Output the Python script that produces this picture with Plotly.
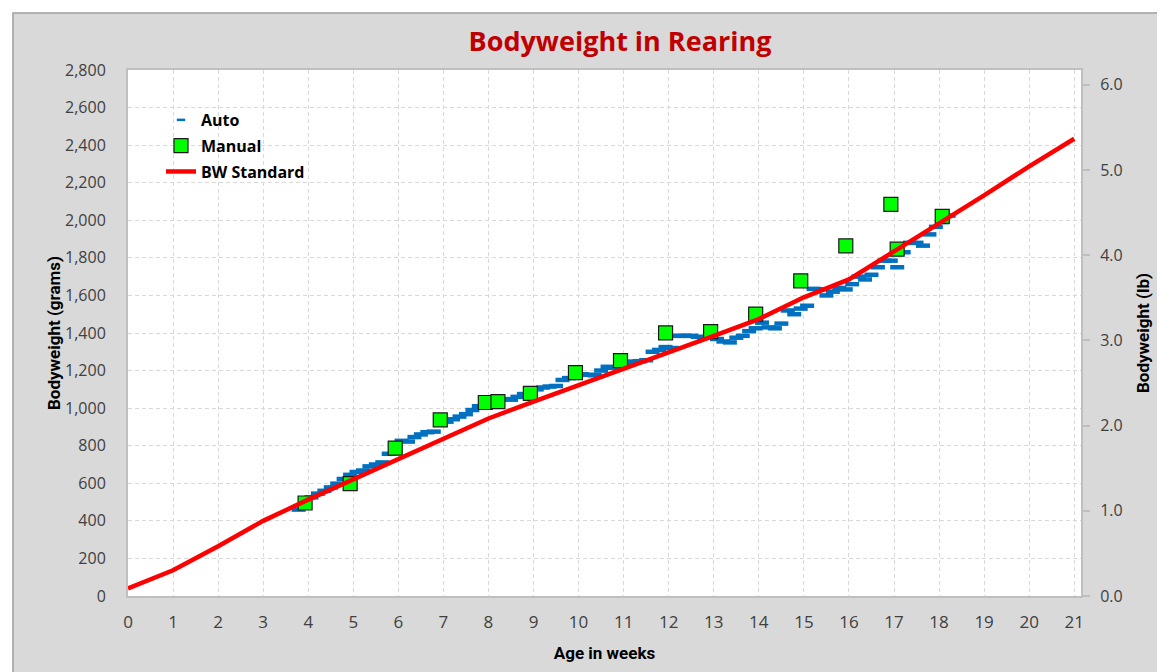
import plotly.graph_objects as go

# ---------------- data ----------------
# BW standard (grams) per week
bw_weeks = [0, 1, 2, 3, 4, 5, 6, 7, 8, 9, 10, 11, 12, 13, 14, 15, 16, 17, 18, 19, 20, 21]
bw_grams = [40, 137, 265, 400, 513, 622, 725, 838, 945, 1035, 1121, 1207, 1295, 1385,
            1474, 1590, 1685, 1832, 1985, 2133, 2287, 2434]

# Manual weighings (week, grams)
manual_weeks = [3.93, 4.93, 5.93, 6.93, 7.93, 8.21, 8.93, 9.93, 10.93, 11.93, 12.93,
                13.93, 14.93, 15.93, 16.93, 17.07, 18.07]
manual_grams = [495, 598, 787, 938, 1030, 1035, 1079, 1189, 1253, 1401, 1407,
                1501, 1678, 1864, 2085, 1846, 2021]

# Automatic daily weighings (day of age, grams)
auto_days = [26, 27, 28, 29, 30, 31, 32, 33, 34, 35, 36, 37, 38, 39, 40, 41, 42, 43, 44, 45,
             46, 47, 48, 49, 50, 51, 52, 53, 54, 55, 56, 57, 58, 59, 60, 61, 62, 63, 64, 65,
             66, 67, 68, 69, 70, 71, 72, 73, 74, 75, 76, 77, 78, 79, 80, 81, 82, 83, 84, 85,
             86, 87, 88, 89, 90, 91, 92, 93, 94, 95, 96, 97, 98, 99, 100, 101, 102, 103, 104, 105,
             106, 107, 108, 109, 110, 111, 112, 113, 114, 115, 116, 117, 118, 119, 120, 121, 122, 123, 124, 125,
             126, 127]
auto_grams = [460, 490, 525, 545, 560, 578, 598, 623, 645, 660, 668, 690, 700, 711, 757, 775, 826, 822, 846, 860,
              872, 875, 920, 928, 941, 955, 968, 990, 1010, 1025, 1040, 1045, 1048, 1045, 1060, 1075, 1085, 1100, 1110, 1115,
              1118, 1150, 1160, 1175, 1180, 1178, 1175, 1200, 1220, 1215, 1225, 1240, 1248, 1250, 1255, 1300, 1310, 1325, 1320, 1385,
              1385, 1385, 1380, 1375, 1380, 1368, 1355, 1350, 1375, 1385, 1410, 1425, 1455, 1430, 1425, 1450, 1520, 1500, 1530, 1545,
              1635, 1633, 1600, 1620, 1640, 1632, 1660, 1700, 1685, 1710, 1750, 1785, 1785, 1750, 1830, 1880, 1880, 1865, 1925, 1965,
              1990, 2025]

GRAMS_PER_LB = 453.592
Y_MAX_G = 2800

auto_weeks = [(d + 0.5) / 7 for d in auto_days]

fig = go.Figure()

fig.add_trace(go.Scatter(
    x=auto_weeks, y=auto_grams, mode="markers", name="Auto",
    marker=dict(symbol="line-ew", size=10, color="#0070c0",
                line=dict(color="#0070c0", width=4.5)),
    legendgroup="a", showlegend=False,
))
# legend-only entry with the small dash symbol shown in the key
fig.add_trace(go.Scatter(
    x=[None], y=[None], mode="markers", name="Auto",
    marker=dict(symbol="line-ew", size=6, color="#0070c0",
                line=dict(color="#0070c0", width=2.5)),
    legendgroup="a",
))
fig.add_trace(go.Scatter(
    x=manual_weeks, y=manual_grams, mode="markers", name="Manual",
    marker=dict(symbol="square", size=14, color="#00ff00",
                line=dict(color="#1a1a1a", width=1.2)),
    legendgroup="m",
))
fig.add_trace(go.Scatter(
    x=bw_weeks, y=bw_grams, mode="lines", name="BW Standard",
    line=dict(color="#ff0000", width=4.5),
    legendgroup="s",
))
# invisible trace on the lb axis so the secondary axis is rendered
fig.add_trace(go.Scatter(
    x=bw_weeks, y=[g / GRAMS_PER_LB for g in bw_grams], mode="lines",
    line=dict(color="rgba(0,0,0,0)", width=0), yaxis="y2",
    showlegend=False, hoverinfo="skip",
))

tick_font = dict(family="Open Sans, DejaVu Sans, sans-serif", size=16, color="#404040")
title_font = dict(family="Liberation Sans Narrow, Arial Narrow, Roboto, sans-serif", size=17,
                  color="#000000", weight="bold")

# plot area geometry (pixels, figure coordinates) for paper-coordinate shapes
L, R, T, B = 120, 1073, 62, 588.5
W, H = R - L, B - T

def px_x(p):
    return (p - L) / W

def px_y(p):
    return (B - p) / H

fig.update_layout(
    width=1165, height=672,
    margin=dict(l=L, r=1165 - R, t=T, b=672 - B),
    paper_bgcolor="#d9d9d9",
    plot_bgcolor="#ffffff",
    title=dict(text="Bodyweight in Rearing", x=612 / 1165, xanchor="center",
               y=1 - 34 / 672, yanchor="middle",
               font=dict(family="Open Sans, DejaVu Sans, sans-serif", size=27,
                         color="#c00000", weight="bold")),
    showlegend=True,
    legend=dict(x=px_x(153), y=px_y(95), xanchor="left", yanchor="top",
                bgcolor="rgba(0,0,0,0)", borderwidth=0,
                traceorder="grouped", tracegroupgap=2,
                font=dict(family="Open Sans, DejaVu Sans, sans-serif", size=16,
                          color="#000000", weight="bold")),
    xaxis=dict(range=[0, 21.15], tick0=0, dtick=1, showgrid=True,
               gridcolor="#d9d9d9", griddash="4px,3px", gridwidth=1,
               showline=True, linecolor="#bfbfbf", linewidth=2, mirror=True,
               ticks="", tickfont=dict(family="Open Sans, DejaVu Sans, sans-serif", size=17, color="#404040"),
               ticklabelstandoff=10, zeroline=False,
               title=dict(text="Age in weeks", font=title_font, standoff=15)),
    yaxis=dict(range=[0, Y_MAX_G], tick0=0, dtick=200, tickformat=",",
               showgrid=True, gridcolor="#d9d9d9", griddash="4px,3px", gridwidth=1,
               showline=True, linecolor="#bfbfbf", linewidth=2, mirror=True,
               ticks="", tickfont=tick_font, ticklabelstandoff=17, zeroline=False,
               title=dict(text="Bodyweight (grams)", font=title_font, standoff=0)),
    yaxis2=dict(range=[0, Y_MAX_G / GRAMS_PER_LB], overlaying="y", side="right",
                tick0=0, dtick=1, tickformat=".1f", showgrid=False, zeroline=False,
                showline=False, ticks="outside", ticklen=8, tickcolor="#bfbfbf", tickwidth=1.5,
                tickfont=tick_font, ticklabelstandoff=7,
                title=dict(text="Bodyweight (lb)", font=title_font, standoff=15)),
    shapes=[
        dict(type="rect", xref="paper", yref="paper", x0=-0.5, x1=2, y0=px_y(4.5), y1=2,
             fillcolor="#ffffff", line=dict(width=0), layer="below"),
        dict(type="rect", xref="paper", yref="paper", x0=-0.5, x1=px_x(4.5), y0=-1, y1=2,
             fillcolor="#ffffff", line=dict(width=0), layer="below"),
        dict(type="rect", xref="paper", yref="paper", x0=px_x(5), x1=2, y0=-1, y1=px_y(5),
             fillcolor="rgba(0,0,0,0)", line=dict(color="#a0a0a0", width=1.5), layer="below"),
    ],
)

fig.write_html("out.html")
